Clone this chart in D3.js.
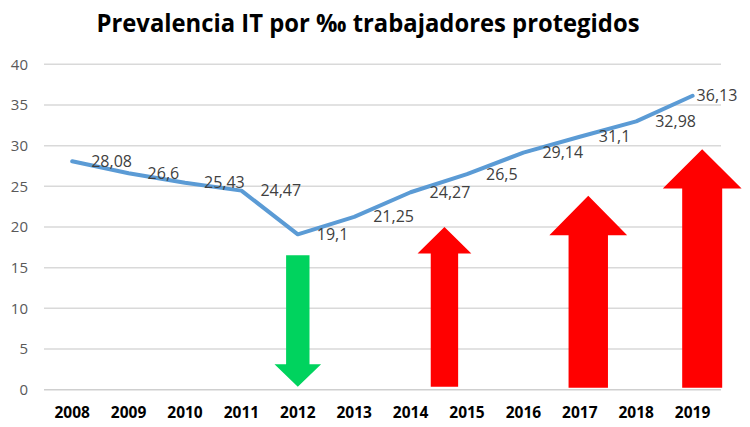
<!DOCTYPE html>
<html>
<head>
<meta charset="utf-8">
<script src="https://cdn.jsdelivr.net/npm/d3@7"></script>
<style>
  body { margin: 0; background: #fff; }
  svg { display: block; font-family: "Open Sans", sans-serif; }
</style>
</head>
<body>
<div id="graph"></div>
<script>
// data
var years = [2008, 2009, 2010, 2011, 2012, 2013, 2014, 2015, 2016, 2017, 2018, 2019];
var prevalence = [28.08, 26.6, 25.43, 24.47, 19.1, 21.25, 24.27, 26.5, 29.14, 31.1, 32.98, 36.13];
var yTicks = [0, 5, 10, 15, 20, 25, 30, 35, 40];
var title = "Prevalencia IT por ‰ trabajadores protegidos";

// arrows, in chart units (year, value)
var arrowYear = [2012, 2014.6, 2017.15, 2019.17];
var arrowFrom = [16.54, 0.37, 0.25, 0.25];
var arrowTo = [0.37, 20.0, 23.83, 29.56];
var arrowNeck = [3.12, 16.75, 19.0, 24.73];

var svgWidth = 750, svgHeight = 427;

var svg = d3.select('#graph').append('svg')
  .attr("width", svgWidth)
  .attr("height", svgHeight);

var x = d3.scaleLinear()
  .domain([2007.5, 2019.5])
  .range([44, 720.8]);

var y = d3.scaleLinear()
  .domain([0, 40])
  .range([389.7, 64.3]);

// title
svg.append("text")
  .attr("x", 368)
  .attr("y", 32)
  .attr("text-anchor", "middle")
  .attr("font-size", 25)
  .attr("font-weight", "bold")
  .attr("fill", "#000")
  .attr("textLength", 543)
  .attr("lengthAdjust", "spacingAndGlyphs")
  .text(title);

// gridlines
svg.append("g")
  .selectAll("line")
  .data(yTicks)
  .join("line")
    .attr("x1", 44)
    .attr("x2", 721)
    .attr("y1", function(d) { return y(d); })
    .attr("y2", function(d) { return y(d); })
    .attr("stroke", function(d) { return d === 0 ? "#cfcfcf" : "#d9d9d9"; })
    .attr("stroke-width", 1.5);

// y labels
svg.append("g")
  .selectAll("text")
  .data(yTicks)
  .join("text")
    .attr("x", 28)
    .attr("y", function(d) { return y(d); })
    .attr("dy", "0.35em")
    .attr("text-anchor", "end")
    .attr("font-size", 15)
    .attr("fill", "#595959")
    .text(function(d) { return d; });

// x labels
svg.append("g")
  .selectAll("text")
  .data(years)
  .join("text")
    .attr("x", function(d) { return x(d); })
    .attr("y", 418)
    .attr("text-anchor", "middle")
    .attr("font-size", 15.5)
    .attr("font-weight", "bold")
    .attr("fill", "#000")
    .text(function(d) { return d; });

// arrows
var shaftHalf = [11.7, 13.7, 19.7, 20];
var headHalf = [23.3, 26.9, 38.9, 39.4];
svg.append("g")
  .selectAll("path")
  .data(arrowYear)
  .join("path")
    .attr("fill", function(d, i) { return arrowTo[i] < arrowFrom[i] ? "#00d35e" : "#ff0000"; })
    .attr("d", function(d, i) {
      var cx = x(d), y0 = y(arrowFrom[i]), y1 = y(arrowTo[i]), yn = y(arrowNeck[i]);
      var s = shaftHalf[i], h = headHalf[i];
      return "M" + (cx - s) + "," + y0 +
        "L" + (cx - s) + "," + yn +
        "L" + (cx - h) + "," + yn +
        "L" + cx + "," + y1 +
        "L" + (cx + h) + "," + yn +
        "L" + (cx + s) + "," + yn +
        "L" + (cx + s) + "," + y0 + "Z";
    });

// the line
var line = d3.line()
  .x(function(d, i) { return x(years[i]); })
  .y(function(d) { return y(d); });

svg.append("path")
  .datum(prevalence)
  .attr("fill", "none")
  .attr("stroke", "#5b9bd5")
  .attr("stroke-width", 4)
  .attr("stroke-linejoin", "round")
  .attr("stroke-linecap", "round")
  .attr("d", line);

// data labels, to the right of each point
svg.append("g")
  .selectAll("text")
  .data(prevalence)
  .join("text")
    .attr("x", function(d, i) { return x(years[i]) + (i === prevalence.length - 1 ? 4 : 19); })
    .attr("y", function(d) { return y(d); })
    .attr("dy", "0.35em")
    .attr("font-size", 16)
    .attr("fill", "#404040")
    .text(function(d) { return String(d).replace(".", ","); });
</script>
</body>
</html>
